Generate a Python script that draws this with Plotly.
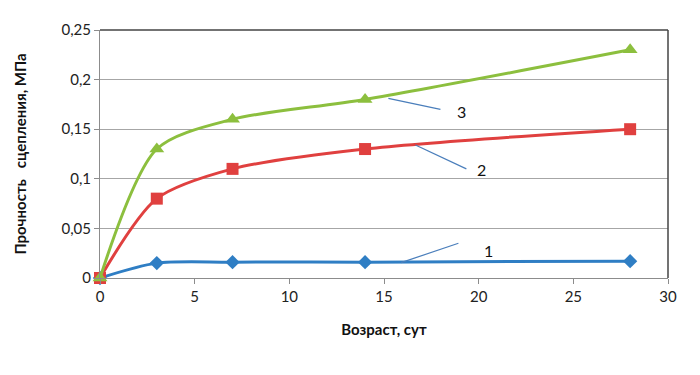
import plotly.graph_objects as go

days = [0, 3, 7, 14, 28]
series1 = [0, 0.015, 0.016, 0.016, 0.017]
series2 = [0, 0.08, 0.11, 0.13, 0.15]
series3 = [0, 0.13, 0.16, 0.18, 0.23]

y_ticks = [0, 0.05, 0.1, 0.15, 0.2, 0.25]
y_labels = ["0", "0,05", "0,1", "0,15", "0,2", "0,25"]
x_ticks = [0, 5, 10, 15, 20, 25, 30]

labels = ["1", "2", "3"]
leader_start = [(15.9, 0.0155), (16.66, 0.134), (15.23, 0.181)]
leader_end = [(18.93, 0.035), (19.35, 0.110), (17.98, 0.170)]
label_pos = [(20.5, 0.028), (20.15, 0.109), (19.1, 0.168)]

blue = "#2f7ec4"
red = "#e0403f"
green = "#8cbf3e"

fig = go.Figure()
fig.add_trace(go.Scatter(x=days, y=series1, mode="lines+markers", cliponaxis=False,
                         line=dict(color=blue, width=3, shape="spline", smoothing=0.8),
                         marker=dict(symbol="diamond", size=11, color=blue)))
fig.add_trace(go.Scatter(x=days, y=series2, mode="lines+markers", cliponaxis=False,
                         line=dict(color=red, width=3, shape="spline", smoothing=0.8),
                         marker=dict(symbol="square", size=12, color=red)))
fig.add_trace(go.Scatter(x=days, y=series3, mode="lines+markers", cliponaxis=False,
                         line=dict(color=green, width=3, shape="spline", smoothing=0.8),
                         marker=dict(symbol="triangle-up", size=13, color=green)))

for lab, s, e, p in zip(labels, leader_start, leader_end, label_pos):
    fig.add_shape(type="line", x0=s[0], y0=s[1], x1=e[0], y1=e[1],
                  xref="x", yref="y", line=dict(color="#4a7ebb", width=1.2))
    fig.add_annotation(x=p[0], y=p[1], text=lab, showarrow=False,
                       font=dict(size=16, color="#111111"))

fig.update_layout(
    width=700, height=375,
    margin=dict(l=91, r=40, t=12, b=105),
    paper_bgcolor="white", plot_bgcolor="white",
    showlegend=False,
    font=dict(family="Lato, Open Sans, sans-serif", size=15, color="#222222"),
)
fig.update_xaxes(range=[0, 30], tickvals=x_ticks, showgrid=False,
                 showline=True, linecolor="#8c8c8c", linewidth=1,
                 ticks="outside", ticklen=5, tickcolor="#8c8c8c",
                 zeroline=False, mirror=False, tickfont=dict(size=15),
                 title=dict(text="<b>Возраст, сут</b>", font=dict(size=15, color="#111111"), standoff=20))
fig.update_yaxes(range=[0, 0.25], tickvals=y_ticks, ticktext=y_labels,
                 showgrid=True, gridcolor="#a6a6a6", gridwidth=1,
                 showline=True, linecolor="#8c8c8c", linewidth=1,
                 ticks="outside", ticklen=5, tickcolor="#8c8c8c",
                 zeroline=False, tickfont=dict(size=15),
                 title=dict(text="<b>Прочность\u00a0\u00a0\u00a0сцепления, МПа</b>", font=dict(size=15, color="#111111"), standoff=31))
# top and right border of the plot area
fig.add_shape(type="line", xref="paper", yref="paper", x0=0, y0=1, x1=1, y1=1,
              line=dict(color="#444444", width=1.5))
fig.add_shape(type="line", xref="paper", yref="paper", x0=1, y0=0, x1=1, y1=1,
              line=dict(color="#444444", width=1.5))

fig.write_html("out.html")
